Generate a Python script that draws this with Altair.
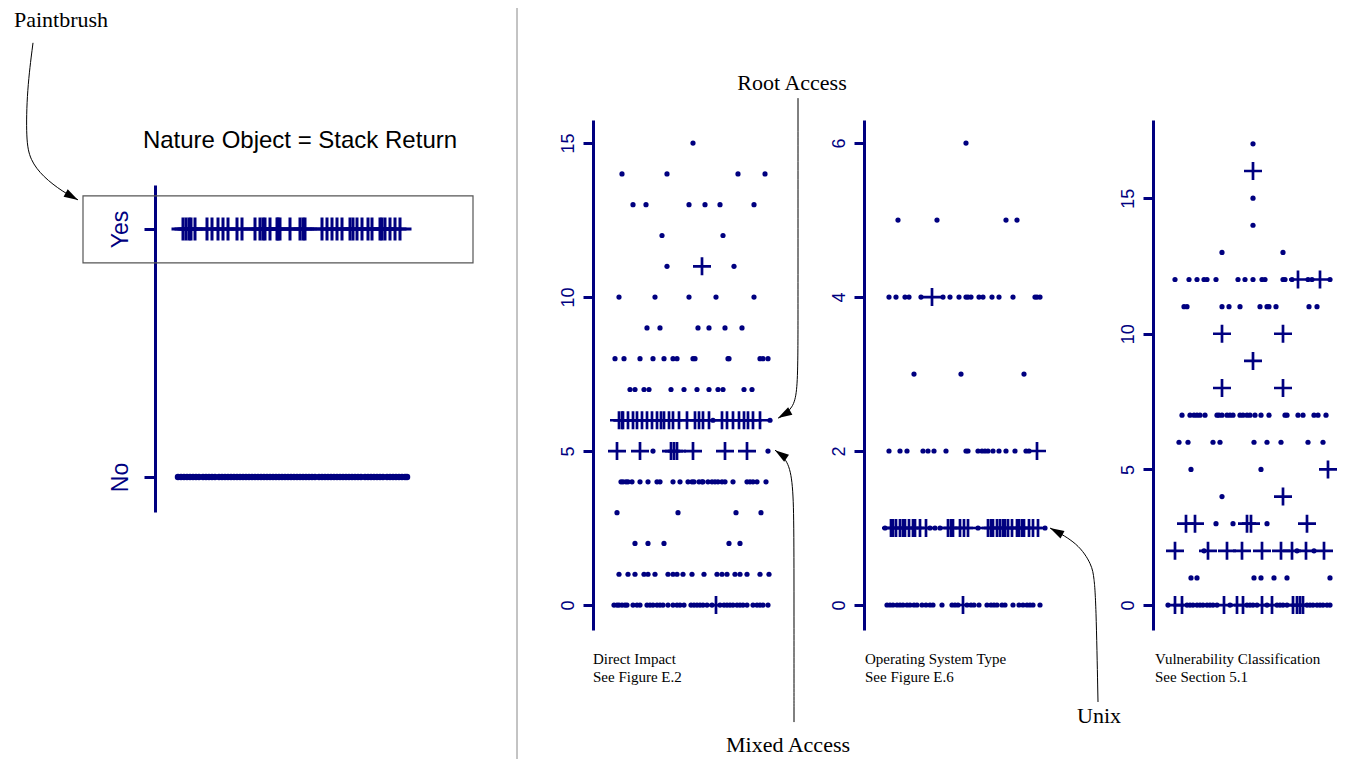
import altair as alt
import pandas as pd

NAVY = "#000080"
PLUS = "M-1,0H1M0,-1V1"
ARROW = "M0,0L-2,-0.6L-2,0.6Z"

# ---------------- data: left panel (Nature Object = Stack Return) ----------------
yes_plus = [28, 31, 34, 36, 40, 52, 57, 63, 68, 73, 82, 87, 100, 105, 108, 110, 115,
            122, 123, 125, 135, 145, 148, 150, 167, 172, 177, 182, 187, 195, 198, 202,
            207, 213, 217, 225, 227, 230, 235, 240, 245]
no_dots = [23, 26, 29, 32, 35, 38, 41, 44, 48, 51, 54, 57, 60, 64, 67, 70, 73, 76, 79,
           82, 85, 88, 91, 94, 97, 100, 103, 106, 109, 112, 115, 118, 121, 124, 127, 130,
           133, 136, 139, 142, 145, 148, 151, 154, 157, 160, 164, 167, 170, 173, 176, 179,
           182, 185, 188, 191, 194, 197, 200, 203, 206, 210, 213, 216, 219, 222, 225, 228,
           232, 235, 238, 241, 244, 247, 250, 252]

# ---------------- panel 1: Direct Impact ----------------
p1_dots = {
    15: [100],
    14: [29, 74, 145, 172],
    13: [40, 53, 96, 112, 127, 161],
    12: [69, 130],
    11: [74, 141],
    10: [26, 62, 96, 123, 161],
    9: [54, 67, 105, 116, 132, 149],
    8: [22, 31, 47, 60, 71, 80, 84, 100, 102, 135, 136, 167, 170, 175],
    7: [37, 42, 51, 56, 78, 91, 104, 116, 125, 130, 151, 159],
    6: [120, 177],
    5: [60, 175],
    4: [28, 30, 33, 35, 39, 47, 55, 64, 67, 80, 87, 95, 99, 101, 106, 109, 110, 115,
        119, 122, 125, 129, 132, 140, 154, 157, 160, 164, 173],
    3: [24, 85, 143, 168],
    2: [42, 55, 71, 136, 147],
    1: [26, 35, 42, 51, 55, 62, 75, 80, 84, 90, 99, 111, 124, 129, 134, 142, 147, 154,
        167, 176],
    0: [21, 24, 26, 29, 32, 34, 40, 44, 47, 54, 57, 60, 64, 67, 70, 75, 80, 84, 87, 91,
        98, 101, 104, 107, 110, 114, 119, 127, 131, 134, 137, 140, 144, 147, 150, 154,
        160, 164, 167, 170, 175],
}
p1_plus = {
    11: [109],
    6: [26, 29, 30, 35, 40, 44, 49, 54, 59, 64, 68, 71, 76, 80, 86, 94, 102, 106, 110,
        116, 129, 134, 140, 146, 151, 155, 160, 167],
    5: [24, 47, 78, 81, 84, 100, 132, 154],
    0: [123],
}

# ---------------- panel 2: Operating System Type ----------------
p2_dots = {
    6: [102],
    5: [34, 73, 142, 153],
    4: [25, 32, 41, 45, 57, 79, 86, 95, 102, 104, 107, 115, 119, 128, 135, 149, 171, 173, 176],
    3: [50, 97, 160],
    2: [25, 36, 43, 59, 64, 70, 82, 102, 104, 114, 118, 121, 124, 129, 135, 142, 151, 162, 165],
    1: [21, 66, 71, 76, 114, 181],
    0: [23, 26, 29, 33, 36, 39, 43, 46, 50, 53, 58, 62, 66, 69, 78, 88, 91, 94, 103, 107,
        110, 115, 123, 127, 130, 133, 138, 141, 149, 155, 159, 163, 166, 169, 176],
}
p2_plus = {
    4: [68],
    2: [173],
    1: [27, 29, 32, 36, 39, 41, 45, 49, 51, 56, 62, 84, 87, 89, 96, 100, 104, 124, 127,
        129, 133, 136, 139, 141, 144, 148, 153, 155, 158, 160, 165, 169, 174],
    0: [99],
}

# ---------------- panel 3: Vulnerability Classification ----------------
p3_dots = {
    17: [100], 15: [100], 14: [100],
    13: [69, 130],
    12: [22, 36, 44, 51, 54, 63, 85, 92, 100, 109, 112, 130, 132, 139, 155, 159, 177],
    11: [31, 34, 69, 76, 87, 107, 114, 116, 123, 156, 164],
    7: [29, 37, 41, 44, 47, 52, 64, 66, 69, 74, 77, 80, 87, 90, 94, 97, 102, 108, 116,
        132, 134, 145, 150, 161, 165, 173],
    6: [26, 35, 60, 67, 101, 114, 128, 155, 170],
    5: [38, 108],
    4: [69],
    3: [63, 80, 114],
    2: [51, 144, 161],
    1: [38, 44, 101, 108, 121, 134, 177],
    0: [15, 34, 37, 40, 44, 47, 50, 54, 57, 60, 64, 77, 94, 97, 100, 104, 114, 124, 127,
        130, 134, 154, 157, 160, 164, 167, 170, 174, 177],
}
p3_plus = {
    16: [100], 12: [145, 167], 10: [69, 130], 9: [100], 8: [69, 130], 5: [175], 4: [130],
    3: [33, 42, 94, 98, 154],
    2: [22, 55, 74, 89, 109, 128, 139, 153, 171],
    0: [22, 29, 71, 84, 90, 109, 119, 140, 144, 147, 150],
}

# ---------------- panel geometry (scales) ----------------
PANELS = {
    "left": dict(xdom=[0, 320], xr=[147, 467], ydom=[-0.141, 1.177], yr=[504, 177]),
    "p1": dict(xdom=[0, 185], xr=[585, 770], ydom=[-0.81, 15.75], yr=[622, 112]),
    "p2": dict(xdom=[0, 185], xr=[856, 1041], ydom=[-0.325, 6.3], yr=[622, 112]),
    "p3": dict(xdom=[0, 185], xr=[1145, 1330], ydom=[-0.92, 17.88], yr=[622, 112]),
}


def rows_df(rows):
    return pd.DataFrame([{"x": x, "y": y} for y, xs in rows.items() for x in xs])


def xenc(p):
    g = PANELS[p]
    return alt.X("x:Q", scale=alt.Scale(domain=g["xdom"], range=g["xr"], nice=False, zero=False), axis=None)


def yenc(p, axis=None):
    g = PANELS[p]
    return alt.Y("y:Q", scale=alt.Scale(domain=g["ydom"], range=g["yr"], nice=False, zero=False), axis=axis)


def make_axis(p, values, fs, tick, pad, label_expr=None):
    kw = dict(orient="left", offset=-PANELS[p]["xr"][0], values=values, grid=False,
              domainColor=NAVY, domainWidth=3, tickColor=NAVY, tickWidth=3, tickSize=tick,
              labelColor=NAVY, labelFont="Liberation Sans", labelFontSize=fs,
              labelAngle=270, labelAlign="center", labelBaseline="alphabetic",
              labelPadding=pad, labelOverlap=False, labelFlush=False, title=None)
    if label_expr:
        kw["labelExpr"] = label_expr
    return alt.Axis(**kw)


def points(p, df, plus, axis=None, size=None):
    if plus:
        m = alt.Chart(df).mark_point(shape=PLUS, filled=False, color=NAVY, opacity=1,
                                     strokeWidth=3 if p == "left" else 2.7,
                                     size=size or 324)
    else:
        m = alt.Chart(df).mark_point(shape="circle", filled=True, color=NAVY, opacity=1,
                                     size=size or 27)
    return m.encode(x=xenc(p), y=yenc(p, axis))


layers = []

# left panel
layers.append(points("left", pd.DataFrame({"x": no_dots, "y": 0}), False,
                     axis=make_axis("left", [0, 1], 23, 11, 17,
                                    "datum.value == 1 ? 'Yes' : 'No'"), size=42))
layers.append(points("left", pd.DataFrame({"x": yes_plus, "y": 1}), True, size=529))

# right panels
layers.append(points("p1", rows_df(p1_dots), False, axis=make_axis("p1", [0, 5, 10, 15], 18, 10, 10)))
layers.append(points("p1", rows_df(p1_plus), True))
layers.append(points("p2", rows_df(p2_dots), False, axis=make_axis("p2", [0, 2, 4, 6], 18, 10, 10)))
layers.append(points("p2", rows_df(p2_plus), True))
layers.append(points("p3", rows_df(p3_dots), False, axis=make_axis("p3", [0, 5, 10, 15], 18, 10, 10)))
layers.append(points("p3", rows_df(p3_plus), True))

# ---------------- annotations ----------------
# box around the "Yes" strip and panel title
box = pd.DataFrame({"x": [-72], "x2": [318], "y": [0.863], "y2": [1.133]})
layers.append(alt.Chart(box).mark_rect(filled=False, stroke="#555555", strokeWidth=1.2).encode(
    x=xenc("left"), x2="x2:Q", y=yenc("left"), y2="y2:Q"))
layers.append(alt.Chart(pd.DataFrame({"x": [145], "y": [1.355], "t": ["Nature Object = Stack Return"]}))
              .mark_text(font="Liberation Sans", fontSize=24, color="black", align="center", baseline="middle")
              .encode(x=xenc("left"), y=yenc("left"), text="t:N"))

# divider between the two halves
layers.append(alt.Chart(pd.DataFrame({"a": [0]})).mark_rule(color="#888888", strokeWidth=1).encode(
    x=alt.value(509), y=alt.value(0), y2=alt.value(751)))

# panel captions
captions = [("p1", 0, -1.753, "Direct Impact\nSee Figure E.2"),
            ("p2", 1, -0.701, "Operating System Type\nSee Figure E.6"),
            ("p3", 2, -1.990, "Vulnerability Classification\nSee Section 5.1")]
for p, cx, cy, txt in captions:
    layers.append(alt.Chart(pd.DataFrame({"x": [cx], "y": [cy], "t": [txt]}))
                  .mark_text(font="Liberation Serif", fontSize=15, color="black", align="left",
                             baseline="middle", lineBreak="\n", lineHeight=18)
                  .encode(x=xenc(p), y=yenc(p), text="t:N"))

# curved arrows with labels: (panel, label, label pos, path x, path y, tip angle)
arrows = [
    ("left", "Paintbrush", (-94, 1.843),
     [-122, -128, -129, -125, -112, -92, -77], [1.750, 1.560, 1.359, 1.278, 1.210, 1.149, 1.117], 29),
    ("p1", "Root Access", (199, 16.95),
     [205, 205, 205, 204, 200, 188, 185], [16.46, 10.0, 7.95, 6.9, 6.4, 6.1, 6.07], 150),
    ("p1", "Mixed Access", (195, -4.55),
     [201, 201, 201, 200, 195, 182], [-3.80, -0.81, 2.5, 3.96, 4.71, 5.03], 215),
    ("p2", "Unix", (235, -1.44),
     [234, 232, 230, 228, 214, 186], [-1.26, 0.065, 0.35, 0.52, 0.805, 1.0], 208),
]
for p, label, (lx, ly), px, py, ang in arrows:
    path = pd.DataFrame({"x": px, "y": py, "i": list(range(len(px)))})
    layers.append(alt.Chart(path).mark_line(interpolate="basis", color="black", strokeWidth=1)
                  .encode(x=xenc(p), y=yenc(p), order="i:Q"))
    tip = pd.DataFrame({"x": [px[-1]], "y": [py[-1]]})
    layers.append(alt.Chart(tip).mark_point(shape=ARROW, filled=True, color="black", opacity=1,
                                            size=200, angle=ang)
                  .encode(x=xenc(p), y=yenc(p)))
    layers.append(alt.Chart(pd.DataFrame({"x": [lx], "y": [ly], "t": [label]}))
                  .mark_text(font="Liberation Serif", fontSize=22, color="black", align="center", baseline="middle")
                  .encode(x=xenc(p), y=yenc(p), text="t:N"))

chart = (
    alt.layer(*layers)
    .resolve_scale(x="independent", y="independent")
    .resolve_axis(x="independent", y="independent")
    .properties(width=1340, height=751, autosize=alt.AutoSizeParams(type="none"), padding=0,
                background="white")
    .configure_view(stroke=None)
)

chart.save("out.html", embed_options={"renderer": "svg", "actions": False})
